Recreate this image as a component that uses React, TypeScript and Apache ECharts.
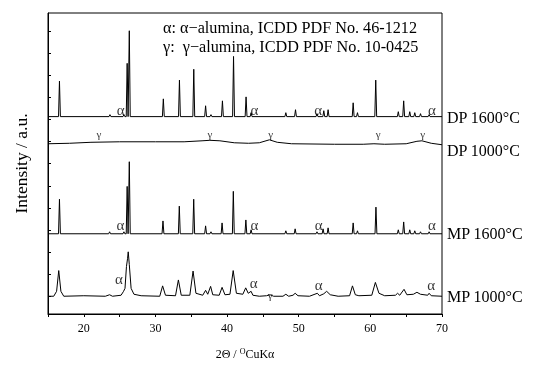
import React, { useEffect, useRef } from "react";
import * as echarts from "echarts";

// 2θ range and axis ticks
const X_MIN = 15;
const X_MAX = 70;
const X_TICK_STEP = 5;
const xLabelValues = [20, 30, 40, 50, 60, 70];
const yTickValues = [17.6, 40, 62.5, 85, 107.4, 129.8, 152.3, 174.7, 197.2, 219.6, 242.1, 264.5, 287];

// vertical stacking offsets (intensity units)
const OFF_DP1600 = 200;
const OFF_DP1000 = 172;
const OFF_MP1600 = 81.3;
const OFF_MP1000 = 18;

// sharp peaks: [2θ, height]
const dp1600Peaks: [number, number][] = [
  [16.6, 36], [23.65, 2], [25.6, 2], [26.05, 54], [26.35, 87], [31.1, 18], [33.35, 37],
  [35.35, 48], [37.0, 11], [37.75, 2], [39.35, 16], [40.9, 61], [42.65, 20], [43.35, 4],
  [48.2, 4], [49.55, 7], [52.55, 3], [53.5, 6], [54.1, 7], [57.6, 14], [58.2, 4],
  [60.75, 37], [63.9, 5], [64.65, 16], [65.5, 5], [66.2, 4], [67.0, 3], [68.2, 2],
];
const mp1600Peaks: [number, number][] = [
  [16.6, 35], [23.6, 2], [25.6, 2], [26.05, 48], [26.35, 73], [31.05, 13], [33.33, 28],
  [35.34, 35], [37.0, 8], [37.75, 2], [39.3, 11], [40.87, 43], [42.62, 14], [43.35, 4],
  [48.2, 3], [49.5, 5], [52.55, 2], [53.4, 5], [54.1, 6], [57.6, 11], [58.2, 3],
  [60.78, 27], [63.9, 4], [64.65, 12], [65.5, 4], [66.2, 3], [67.0, 2], [68.2, 2],
];

// broader patterns: [2θ, intensity above baseline]
const mp1000Points: [number, number][] = [
  [15, 0], [15.8, 0], [16.2, 5], [16.5, 26], [16.8, 5], [17.2, 0], [20, 0.5], [23, 0],
  [23.6, 1.5], [24, 0], [25.2, 1], [25.55, 5], [25.75, 8], [25.95, 30], [26.1, 38],
  [26.2, 45], [26.35, 32], [26.6, 8], [27, 2], [28, 0.5], [30.6, 0], [31.0, 10.5],
  [31.4, 1], [32.8, 0.5], [33.2, 16.5], [33.6, 1], [34.8, 1], [35.25, 25.5], [35.65, 3],
  [36.6, 1], [37.0, 6], [37.3, 2], [37.7, 10], [38.0, 1.5], [38.9, 1], [39.3, 9],
  [39.7, 1.5], [40.4, 2], [40.85, 26], [41.3, 3], [42.2, 2], [42.6, 8.5], [42.95, 3],
  [43.35, 5], [43.6, 1], [44.5, 0], [45.5, 0.5], [46.0, 1.5], [46.5, 0], [47.8, 0],
  [48.2, 2], [48.6, 0], [49.2, 1], [49.5, 3], [49.9, 0.5], [51.5, 0], [52.6, 3],
  [52.9, 0.5], [53.5, 2.5], [53.9, 5], [54.4, 1.5], [55.5, 0], [57.1, 0.5], [57.5, 10.5],
  [57.9, 1.5], [58.4, 0.5], [60.2, 1], [60.7, 14], [61.2, 3], [62, 0.5], [63.5, 1],
  [63.8, 3], [64.1, 1], [64.7, 7], [65.1, 1.5], [66, 2], [66.5, 4], [67, 2], [68.0, 1],
  [68.2, 3], [68.5, 0.5], [70, 0],
];
const dp1000Points: [number, number][] = [
  [15, 0.5], [18, 1], [21, 2], [25, 2.5], [30, 2.5], [34, 2.5], [36.5, 3.5], [37.6, 4],
  [39, 3.5], [41, 1.5], [43, 1], [44.5, 1.5], [45.9, 4.5], [47, 2], [49, 0.5], [55, 0],
  [59, 0], [60.5, 0.5], [62, 0], [65, 0.5], [66.5, 3], [67.2, 3.5], [68.5, 1], [70, -0.5],
];

// phase annotations: [2θ, intensity]
const alphaMarks: [number, number][] = [
  [25.15, 207], [43.8, 207], [52.7, 207], [68.6, 207],
  [25.1, 90.5], [43.8, 90.5], [52.8, 90.5], [68.6, 90.5],
  [24.9, 35.5], [43.7, 31], [52.8, 29], [68.5, 29.5],
];
const gammaMarks: [number, number][] = [
  [22.1, 182], [37.6, 182], [46.1, 182], [61.1, 182], [67.3, 182], [46.0, 19],
];

const sampleNames = ["DP 1600°C", "DP 1000°C", "MP 1600°C", "MP 1000°C"];
const legendLines = ["α: α−alumina, ICDD PDF No. 46-1212", "γ:  γ−alumina, ICDD PDF No. 10-0425"];

const FONT = '"Liberation Serif", "Times New Roman", serif';
const PEAK_HALF_WIDTH = 0.13;

function sharpPattern(peaks: [number, number][], off: number): [number, number][] {
  const out: [number, number][] = [[X_MIN, off]];
  peaks.forEach(([p, h]) => {
    out.push([p - PEAK_HALF_WIDTH, off], [p, off + h], [p + PEAK_HALF_WIDTH, off]);
  });
  out.push([X_MAX, off]);
  return out;
}
function shifted(points: [number, number][], off: number): [number, number][] {
  return points.map(([x, y]) => [x, y + off]);
}

export default function App() {
  const ref = useRef<HTMLDivElement>(null);
  useEffect(() => {
    if (!ref.current) return;
    const chart = echarts.init(ref.current, null, { renderer: "svg" });
    const lineSeries = (name: string, data: [number, number][], labelOffset: [number, number]) => ({
      type: "line",
      name,
      data,
      showSymbol: false,
      symbol: "none",
      lineStyle: { color: "#000", width: 1 },
      itemStyle: { color: "#000" },
      endLabel: {
        show: true,
        formatter: name,
        distance: 5,
        offset: labelOffset,
        color: "#000",
        fontSize: 16,
        fontFamily: FONT,
      },
      z: 2,
    });
    const markLabel = (txt: string, size: number) => ({
      show: true,
      position: "inside",
      formatter: txt,
      color: "#000",
      textBorderWidth: 0,
      fontSize: size,
      fontFamily: FONT,
    });
    chart.setOption({
      animation: false,
      grid: { left: 48, right: 102, top: 13, bottom: 47, show: true, borderColor: "#000", borderWidth: 1, containLabel: false },
      xAxis: {
        type: "value",
        min: X_MIN,
        max: X_MAX,
        interval: X_TICK_STEP,
        splitLine: { show: false },
        axisLine: { show: true, lineStyle: { color: "#000", width: 1 } },
        axisTick: { show: true, inside: false, length: 3, lineStyle: { color: "#000" } },
        axisLabel: {
          color: "#000",
          fontSize: 12,
          fontFamily: FONT,
          margin: 8,
          formatter: (v: number) => (xLabelValues.includes(v) ? String(v) : ""),
        },
        name: "{a|2Θ / }{s|O}{a|CuKα}",
        nameLocation: "middle",
        nameGap: 33,
        nameTextStyle: {
          rich: {
            a: { fontSize: 12, fontFamily: FONT, color: "#000", lineHeight: 14 },
            s: { fontSize: 8, fontFamily: FONT, color: "#000", lineHeight: 14, verticalAlign: "top", padding: [0, 0, 5, 0] },
          },
        },
      },
      yAxis: {
        type: "value",
        min: 0,
        max: 305,
        splitLine: { show: false },
        axisLine: { show: true, lineStyle: { color: "#000", width: 1 } },
        axisTick: { show: true, inside: true, length: 3, customValues: yTickValues, lineStyle: { color: "#000" } },
        axisLabel: { show: false },
        name: "Intensity / a.u.",
        nameLocation: "middle",
        nameRotate: 90,
        nameGap: 18,
        nameTextStyle: { fontSize: 17.5, fontFamily: FONT, color: "#000" },
      },
      graphic: legendLines.map((t, i) => ({
        type: "text",
        left: 163,
        top: 20 + i * 19,
        style: { text: t, font: `16.2px ${FONT}`, fill: "#000" },
      })),
      series: [
        lineSeries(sampleNames[0], sharpPattern(dp1600Peaks, OFF_DP1600), [0, 1]),
        lineSeries(sampleNames[1], shifted(dp1000Points, OFF_DP1000), [0, 6]),
        lineSeries(sampleNames[2], sharpPattern(mp1600Peaks, OFF_MP1600), [0, 0]),
        lineSeries(sampleNames[3], shifted(mp1000Points, OFF_MP1000), [0, 0]),
        {
          type: "scatter",
          data: alphaMarks,
          symbolSize: 1,
          itemStyle: { color: "rgba(0,0,0,0)" },
          label: markLabel("α", 15),
          z: 3,
        },
        {
          type: "scatter",
          data: gammaMarks,
          symbolSize: 1,
          itemStyle: { color: "rgba(0,0,0,0)" },
          label: markLabel("γ", 11),
          z: 3,
        },
      ],
    });
    return () => chart.dispose();
  }, []);
  return <div ref={ref} style={{ position: "fixed", left: 0, top: 0, width: 544, height: 365 }} />;
}
